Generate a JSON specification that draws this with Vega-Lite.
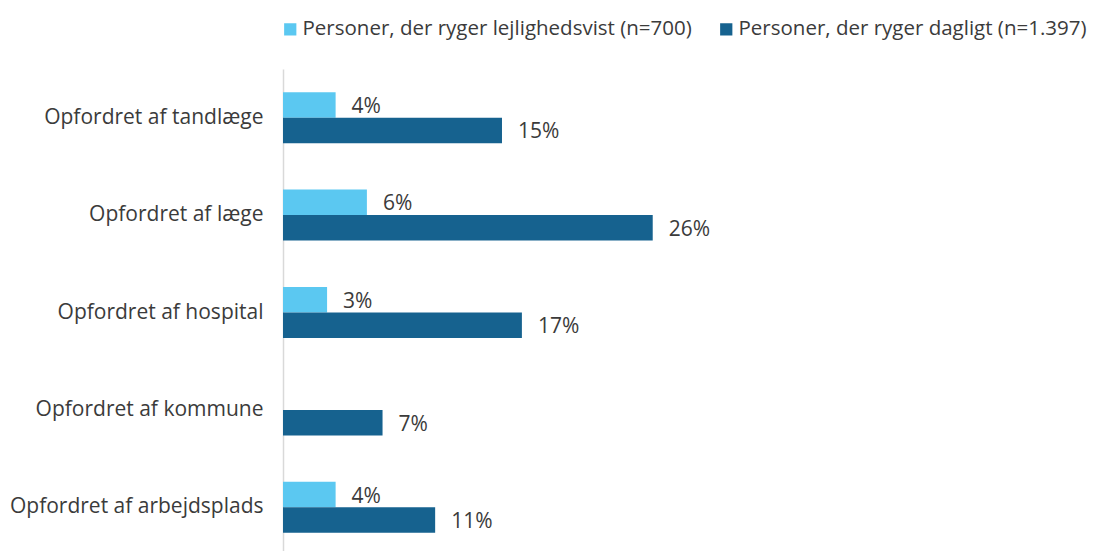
{
  "$schema": "https://vega.github.io/schema/vega-lite/v6.json",
  "autosize": {"type": "none"},
  "padding": {"left": 283, "top": 69, "right": 103, "bottom": 0},
  "width": 711,
  "height": 487,
  "background": "white",
  "config": {"view": {"stroke": null}, "font": "Open Sans"},
  "data": {
    "values": [
      {"kategori": "Opfordret af tandlæge", "gruppe": "Personer, der ryger lejlighedsvist (n=700)", "andel": 0.037},
      {"kategori": "Opfordret af tandlæge", "gruppe": "Personer, der ryger dagligt (n=1.397)", "andel": 0.154},
      {"kategori": "Opfordret af læge", "gruppe": "Personer, der ryger lejlighedsvist (n=700)", "andel": 0.059},
      {"kategori": "Opfordret af læge", "gruppe": "Personer, der ryger dagligt (n=1.397)", "andel": 0.26},
      {"kategori": "Opfordret af hospital", "gruppe": "Personer, der ryger lejlighedsvist (n=700)", "andel": 0.031},
      {"kategori": "Opfordret af hospital", "gruppe": "Personer, der ryger dagligt (n=1.397)", "andel": 0.168},
      {"kategori": "Opfordret af kommune\u00a0", "gruppe": "Personer, der ryger dagligt (n=1.397)", "andel": 0.07},
      {"kategori": "Opfordret af arbejdsplads", "gruppe": "Personer, der ryger lejlighedsvist (n=700)", "andel": 0.037},
      {"kategori": "Opfordret af arbejdsplads", "gruppe": "Personer, der ryger dagligt (n=1.397)", "andel": 0.107}
    ]
  },
  "encoding": {
    "y": {
      "field": "kategori",
      "type": "nominal",
      "sort": null,
      "title": null,
      "scale": {"paddingInner": 0.476, "paddingOuter": 0.238},
      "axis": {
        "ticks": false,
        "domainColor": "#d9d9d9",
        "domainWidth": 1.5,
        "labelFontSize": 21,
        "labelColor": "#3b3b3b",
        "labelFont": "Open Sans",
        "labelPadding": 20,
        "labelLimit": 400
      }
    },
    "yOffset": {
      "field": "gruppe",
      "type": "nominal",
      "sort": ["Personer, der ryger lejlighedsvist (n=700)", "Personer, der ryger dagligt (n=1.397)"],
      "scale": {"paddingInner": 0, "paddingOuter": 0}
    },
    "x": {
      "field": "andel",
      "type": "quantitative",
      "scale": {"domain": [0, 0.5]},
      "axis": null
    }
  },
  "layer": [
    {
      "mark": {"type": "bar"},
      "encoding": {
        "color": {
          "field": "gruppe",
          "type": "nominal",
          "sort": ["Personer, der ryger lejlighedsvist (n=700)", "Personer, der ryger dagligt (n=1.397)"],
          "scale": {"range": ["#5bc8f1", "#16628f"]},
          "legend": {
            "title": null,
            "orient": "none",
            "legendX": -3,
            "legendY": -50,
            "direction": "horizontal",
            "symbolType": "square",
            "symbolSize": 150,
            "symbolStrokeWidth": 0,
            "symbolOpacity": 1,
            "labelFontSize": 20.5,
            "labelColor": "#3b3b3b",
            "labelFont": "Open Sans",
            "labelOffset": 2,
            "labelLimit": 500,
            "columnPadding": 24,
            "padding": 0
          }
        }
      }
    },
    {
      "mark": {"type": "text", "align": "left", "baseline": "middle", "dx": 16, "dy": 2, "fontSize": 21, "color": "#3b3b3b", "font": "Open Sans"},
      "encoding": {
        "text": {"field": "andel", "type": "quantitative", "format": ".0%"}
      }
    }
  ]
}
